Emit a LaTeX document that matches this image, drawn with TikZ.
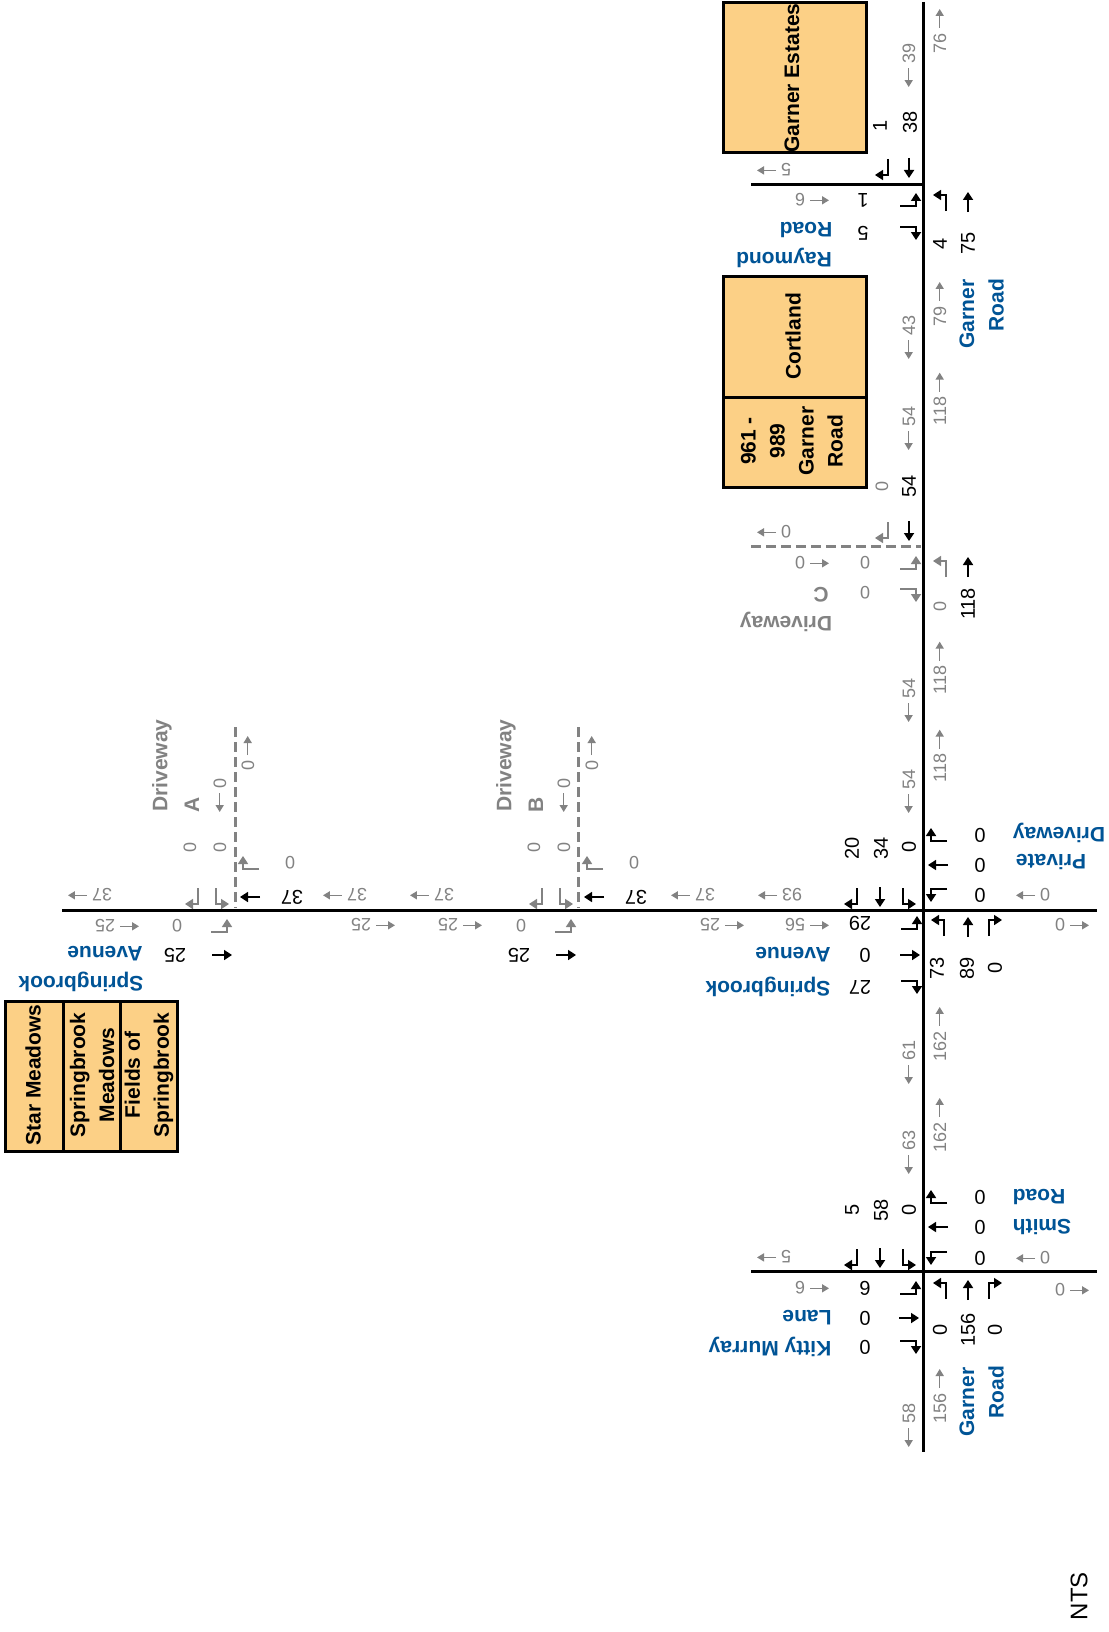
\documentclass[tikz,border=0pt]{standalone}
\usepackage{fontspec}
\setmainfont{Liberation Sans}
\usetikzlibrary{arrows.meta}
\definecolor{bluec}{RGB}{0,84,150}
\definecolor{grayc}{RGB}{130,130,130}
\definecolor{boxc}{RGB}{252,208,134}
\newcommand\tarr[7]{\draw[arr,#1] ({#2-6*(#6)-9*(#4)},{#3-6*(#7)-9*(#5)}) -- ({#2-6*(#6)+7*(#4)},{#3-6*(#7)+7*(#5)}) -- ({#2+7*(#6)+7*(#4)},{#3+7*(#7)+7*(#5)});}
\newcommand\sarr[5]{\draw[arr,#1] ({#2-10*(#4)},{#3-10*(#5)}) -- ({#2+10*(#4)},{#3+10*(#5)});}
\newcommand\zDL[3][black]{\tarr{#1}{#2}{#3}{0}{1}{-1}{0}}
\newcommand\zDR[3][black]{\tarr{#1}{#2}{#3}{0}{1}{1}{0}}
\newcommand\zUL[3][black]{\tarr{#1}{#2}{#3}{0}{-1}{-1}{0}}
\newcommand\zUR[3][black]{\tarr{#1}{#2}{#3}{0}{-1}{1}{0}}
\newcommand\zRU[3][black]{\tarr{#1}{#2}{#3}{1}{0}{0}{-1}}
\newcommand\zRD[3][black]{\tarr{#1}{#2}{#3}{1}{0}{0}{1}}
\newcommand\zLU[3][black]{\tarr{#1}{#2}{#3}{-1}{0}{0}{-1}}
\newcommand\zLD[3][black]{\tarr{#1}{#2}{#3}{-1}{0}{0}{1}}
\newcommand\zD[3][black]{\sarr{#1}{#2}{#3}{0}{1}}
\newcommand\zU[3][black]{\sarr{#1}{#2}{#3}{0}{-1}}
\newcommand\zL[3][black]{\sarr{#1}{#2}{#3}{-1}{0}}
\newcommand\zR[3][black]{\sarr{#1}{#2}{#3}{1}{0}}
\newsavebox\glabox
\newsavebox\grabox
\newcommand\gla{\usebox\glabox}
\newcommand\gra{\usebox\grabox}
\newcommand\mkgarrow[2]{%
  \begin{pgfpicture}%
    \pgfpathrectangle{\pgfpointorigin}{\pgfpoint{19pt}{12pt}}%
    \pgfusepath{use as bounding box}%
    \pgfsetbaseline{0pt}%
    \pgfsetlinewidth{1.5pt}%
    \pgfsetcolor{grayc}%
    \pgfsetarrowsend{Triangle[length=7pt,width=8pt]}%
    \pgfpathmoveto{\pgfpoint{#1}{6.5pt}}%
    \pgfpathlineto{\pgfpoint{#2}{6.5pt}}%
    \pgfusepath{stroke}%
  \end{pgfpicture}}
\tikzset{
  arr/.style={line width=1.7pt, -{Triangle[length=8pt,width=10pt]}},
  road/.style={line width=3pt},
  drv/.style={line width=3pt, grayc, dash pattern=on 10pt off 5pt},
  boxst/.style={line width=3pt, fill=boxc},
  blk/.style={inner sep=0pt, font=\fontsize{20}{24}\selectfont},
  gry/.style={inner sep=0pt, text=grayc, font=\fontsize{18}{21}\selectfont},
  blu/.style={inner sep=0pt, text=bluec, font=\bfseries\fontsize{21}{29}\selectfont},
  gbl/.style={inner sep=0pt, text=grayc, font=\bfseries\fontsize{21}{29}\selectfont},
  boxt/.style={inner sep=0pt, font=\bfseries\fontsize{21}{29}\selectfont},
  r90/.style={rotate=90},
  r180/.style={rotate=180},
}
\begin{document}
\sbox\glabox{\mkgarrow{19pt}{0pt}}%
\sbox\grabox{\mkgarrow{0pt}{19pt}}%
\begin{tikzpicture}[x=1pt,y=-1pt]
\useasboundingbox[fill=white] (0,0) rectangle (1108,1632);
% boxes
\draw[boxst] (723,3) rectangle (866,153);
\node[boxt,r90] (ge) at (792,78) {Garner Estates};
\draw[boxst] (723,276) rectangle (866,397);
\draw[boxst] (723,397) rectangle (866,487);
\node[boxt,r90] (co) at (793,336) {Cortland};
\node[boxt,r90,align=center] (g961) at (792,441) {961 -\\989\\Garner\\Road};
\draw[boxst] (5,1001) rectangle (63,1151);
\draw[boxst] (63,1001) rectangle (120,1151);
\draw[boxst] (120,1001) rectangle (177,1151);
\node[boxt,r90] (sm) at (33,1075) {Star Meadows};
\node[boxt,r90,align=center] (sbm) at (92,1075) {Springbrook\\Meadows};
\node[boxt,r90,align=center] (fos) at (149,1075) {Fields of\\Springbrook};
% roads
\draw[road] (923,2) -- (923,1452);
\draw[road] (751,185) -- (923,185);
\draw[road] (62,910) -- (1097,910);
\draw[road] (751,1271) -- (1097,1271);
\draw[drv] (751,546) -- (921,546);
\draw[drv] (235,727) -- (235,908);
\draw[drv] (578,727) -- (578,908);
% road labels
\node[blu,r90] (gr1) at (967,314) {Garner};
\node[blu,r90] (gr2) at (996,305) {Road};
\node[blu,r90] (gr3) at (967,1402) {Garner};
\node[blu,r90] (gr4) at (996,1392) {Road};
\node[blu,r180] (rr1) at (806,230) {Road};
\node[blu,r180] (rr2) at (784,258) {Raymond};
\node[blu,r180] (sa1) at (793,955) {Avenue};
\node[blu,r180] (sa2) at (768,987) {Springbrook};
\node[blu,r180] (sa3) at (105,954) {Avenue};
\node[blu,r180] (sa4) at (81,982) {Springbrook};
\node[blu,r180] (km1) at (807,1318) {Lane};
\node[blu,r180] (km2) at (770,1347) {Kitty Murray};
\node[blu,r180] (sr1) at (1039,1197) {Road};
\node[blu,r180] (sr2) at (1042,1227) {Smith};
\node[blu,r180] (pd1) at (1059,833) {Driveway};
\node[blu,r180] (pd2) at (1051,862) {Private};
\node[gbl,r180] (dc1) at (821,595) {C};
\node[gbl,r180] (dc2) at (786,622) {Driveway};
\node[gbl,r90,anchor=west] (da1) at (162,812) {Driveway};
\node[gbl,r90,anchor=west] (da2) at (192,813) {A};
\node[gbl,r90,anchor=west] (db1) at (506,812) {Driveway};
\node[gbl,r90,anchor=west] (db2) at (536,813) {B};
\node[r90,inner sep=0pt,font=\fontsize{24}{28}\selectfont] (nts) at (1079,1596) {NTS};
% gray link volumes along Garner
\node[gry,r90] (g1) at (909,65) {\gla\ 39};
\node[gry,r90] (g2) at (940,31) {76 \gra};
\node[gry,r90] (g3) at (909,337) {\gla\ 43};
\node[gry,r90] (g4) at (940,304) {79 \gra};
\node[gry,r90] (g5) at (909,428) {\gla\ 54};
\node[gry,r90] (g6) at (940,399) {118 \gra};
\node[gry,r90] (g7) at (909,700) {\gla\ 54};
\node[gry,r90] (g8) at (940,668) {118 \gra};
\node[gry,r90] (g9) at (909,791) {\gla\ 54};
\node[gry,r90] (g10) at (940,756) {118 \gra};
\node[gry,r90] (g11) at (909,1062) {\gla\ 61};
\node[gry,r90] (g12) at (940,1034) {162 \gra};
\node[gry,r90] (g13) at (909,1152) {\gla\ 63};
\node[gry,r90] (g14) at (940,1125) {162 \gra};
\node[gry,r90] (g15) at (940,1396) {156 \gra};
\node[gry,r90] (g16) at (909,1425) {\gla\ 58};
% gray side-street volumes
\node[gry,r180] (h1) at (774,170) {5 \gra};
\node[gry,r180] (h2) at (812,200) {\gla\ 6};
\node[gry,r180] (h3) at (774,532) {0 \gra};
\node[gry,r180] (h4) at (812,563) {\gla\ 0};
\node[gry,r180] (h5) at (780,895) {93 \gra};
\node[gry,r180] (h6) at (693,895) {37 \gra};
\node[gry,r180] (h7) at (1033,895) {0 \gra};
\node[gry,r180] (h8) at (807,925) {\gla\ 56};
\node[gry,r180] (h9) at (722,925) {\gla\ 25};
\node[gry,r180] (h10) at (1072,925) {\gla\ 0};
\node[gry,r180] (h11) at (90,895) {37 \gra};
\node[gry,r180] (h12) at (345,895) {37 \gra};
\node[gry,r180] (h13) at (432,895) {37 \gra};
\node[gry,r180] (h14) at (117,926) {\gla\ 25};
\node[gry,r180] (h15) at (373,925) {\gla\ 25};
\node[gry,r180] (h16) at (460,925) {\gla\ 25};
\node[gry,r180] (h17) at (774,1257) {5 \gra};
\node[gry,r180] (h18) at (1033,1258) {0 \gra};
\node[gry,r180] (h19) at (812,1288) {\gla\ 6};
\node[gry,r180] (h20) at (1072,1290) {\gla\ 0};
% driveway gray turning volumes
\node[gry,r90] (k1) at (882,486) {0};
\node[gry,r90] (k2) at (940,606) {0};
\node[gry,r180] (k3) at (865,563) {0};
\node[gry,r180] (k4) at (865,593) {0};
\node[gry,r90] (k5) at (220,795) {\gla\ 0};
\node[gry,r90] (k6) at (248,753) {0 \gra};
\node[gry,r90] (k7) at (564,795) {\gla\ 0};
\node[gry,r90] (k8) at (592,753) {0 \gra};
\node[gry,r90] (k9) at (190,847) {0};
\node[gry,r90] (k10) at (220,847) {0};
\node[gry,r90] (k11) at (534,847) {0};
\node[gry,r90] (k12) at (564,847) {0};
\node[gry,r180] (k13) at (290,863) {0};
\node[gry,r180] (k14) at (634,863) {0};
\node[gry,r180] (k15) at (177,926) {0};
\node[gry,r180] (k16) at (521,926) {0};
% black turning volumes
\node[blk,r90] (b1) at (880,126) {1};
\node[blk,r90] (b2) at (910,122) {38};
\node[blk,r90] (b3) at (940,244) {4};
\node[blk,r90] (b4) at (968,243) {75};
\node[blk,r90] (b5) at (909,486) {54};
\node[blk,r90] (b6) at (968,604) {118};
\node[blk,r90] (b7) at (852,848) {20};
\node[blk,r90] (b8) at (881,848) {34};
\node[blk,r90] (b9) at (909,847) {0};
\node[blk,r90] (b10) at (937,968) {73};
\node[blk,r90] (b11) at (967,968) {89};
\node[blk,r90] (b12) at (995,968) {0};
\node[blk,r90] (b13) at (852,1210) {5};
\node[blk,r90] (b14) at (881,1210) {58};
\node[blk,r90] (b15) at (909,1210) {0};
\node[blk,r90] (b16) at (940,1330) {0};
\node[blk,r90] (b17) at (968,1330) {156};
\node[blk,r90] (b18) at (995,1330) {0};
\node[blk,r180] (c1) at (863,200) {1};
\node[blk,r180] (c2) at (863,233) {5};
\node[blk,r180] (c3) at (860,923) {29};
\node[blk,r180] (c4) at (865,955) {0};
\node[blk,r180] (c5) at (860,987) {27};
\node[blk,r180] (c6) at (980,835) {0};
\node[blk,r180] (c7) at (980,865) {0};
\node[blk,r180] (c8) at (980,895) {0};
\node[blk,r180] (c9) at (292,897) {37};
\node[blk,r180] (c10) at (636,897) {37};
\node[blk,r180] (c11) at (175,955) {25};
\node[blk,r180] (c12) at (519,955) {25};
\node[blk,r180] (c13) at (980,1197) {0};
\node[blk,r180] (c14) at (980,1227) {0};
\node[blk,r180] (c15) at (980,1258) {0};
\node[blk,r180] (c16) at (865,1288) {6};
\node[blk,r180] (c17) at (865,1318) {0};
\node[blk,r180] (c18) at (865,1347) {0};
% lane arrows: Raymond Road
\zDL{882}{168} \zD{909}{168} \zRU{909}{200} \zRD{909}{233} \zUL{940}{202} \zU{968}{202}
% Driveway C
\zDL[grayc]{882}{531} \zD{909}{531} \zRU[grayc]{909}{563} \zRD[grayc]{909}{595} \zUL[grayc]{940}{568} \zU{968}{567}
% Springbrook / Private Driveway
\zDL{851}{897} \zD{880}{897} \zDR{909}{897}
\zLU{938}{835} \zL{938}{865} \zLD{938}{895}
\zRU{910}{923} \zR{910}{955} \zRD{910}{987}
\zUL{938}{927} \zU{968}{927} \zUR{995}{927}
% Driveway A
\zDL[grayc]{192}{897} \zDR[grayc]{222}{897} \zLU[grayc]{250}{863} \zL{250}{897} \zRU[grayc]{220}{926} \zR{222}{955}
% Driveway B
\zDL[grayc]{536}{897} \zDR[grayc]{566}{897} \zLU[grayc]{594}{863} \zL{594}{897} \zRU[grayc]{564}{926} \zR{566}{955}
% Smith Road / Kitty Murray Lane
\zDL{851}{1258} \zD{880}{1258} \zDR{909}{1258}
\zLU{938}{1197} \zL{938}{1227} \zLD{938}{1258}
\zRU{909}{1288} \zR{909}{1318} \zRD{909}{1347}
\zUL{940}{1290} \zU{968}{1290} \zUR{995}{1290}
\end{tikzpicture}
\end{document}
